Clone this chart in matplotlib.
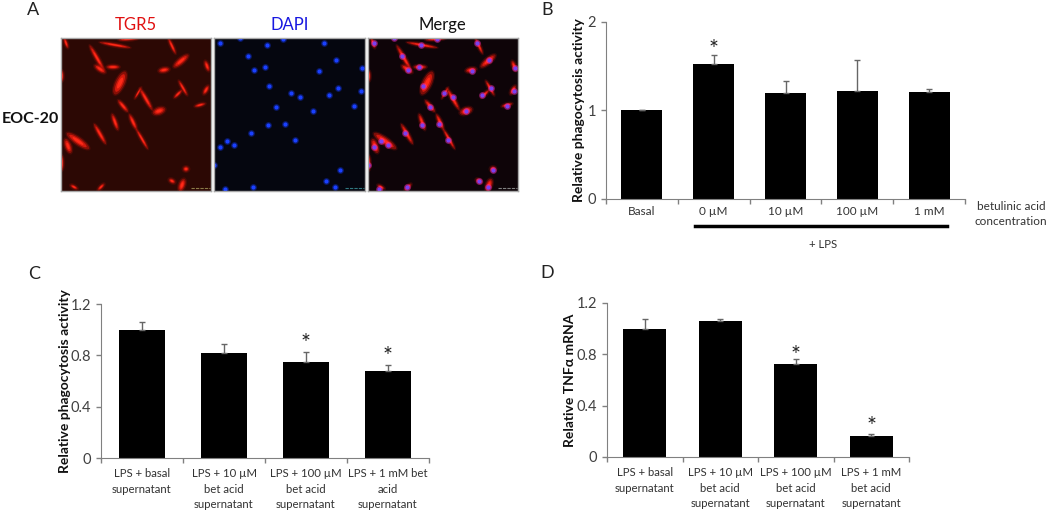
import matplotlib
matplotlib.use('Agg')
import matplotlib.pyplot as plt
from matplotlib.patches import Ellipse

plt.rcParams['font.family'] = ['Lato', 'DejaVu Sans']

W, H = 1050, 513

# Bar data
b_labels = ['Basal', '0 µM', '10 µM', '100 µM', '1 mM']
b_values = [1.0, 1.525, 1.2, 1.225, 1.21]
b_errors = [0.005, 0.105, 0.13, 0.35, 0.035]
b_stars = [None, 1.69, None, None, None]

c_labels = ['LPS + basal\nsupernatant', 'LPS + 10 µM\nbet acid\nsupernatant',
            'LPS + 100 µM\nbet acid\nsupernatant', 'LPS + 1 mM bet\nacid\nsupernatant']
c_values = [1.0, 0.815, 0.75, 0.675]
c_errors = [0.063, 0.07, 0.075, 0.052]
c_stars = [None, None, 0.895, 0.79]

d_labels = ['LPS + basal\nsupernatant', 'LPS + 10 µM\nbet acid\nsupernatant',
            'LPS + 100 µM\nbet acid\nsupernatant', 'LPS + 1 mM\nbet acid\nsupernatant']
d_values = [1.0, 1.062, 0.727, 0.164]
d_errors = [0.078, 0.011, 0.039, 0.015]
d_stars = [None, None, 0.79, 0.24]

# Micrograph cells: x, y, length, width, angle (y pointing down)
cells = [
    (54, 7, 30, 3, 10), (36, 20, 28, 4, 60), (39, 31, 12, 5, 35), (52, 29, 12, 4, 0),
    (111, 8, 16, 3, 65), (120, 23, 18, 6, -40), (103, 32, 10, 5, -10), (146, 28, 10, 4, 70),
    (59, 45, 24, 9, -65), (85, 61, 24, 4, 60), (77, 55, 12, 2, -60), (122, 50, 16, 3, 60),
    (117, 56, 10, 3, -45), (145, 52, 9, 4, -60), (139, 67, 10, 3, -15), (98, 73, 12, 7, -20),
    (62, 68, 14, 4, 50), (72, 84, 16, 4, 65), (81, 101, 22, 3, 60), (54, 84, 16, 4, 70),
    (39, 96, 22, 4, 60), (17, 103, 26, 7, 35), (7, 108, 14, 6, 70), (125, 131, 5, 5, 0),
    (121, 147, 12, 6, -70), (111, 143, 6, 4, 30), (40, 149, 8, 3, -45), (13, 149, 7, 3, 30),
    (1, 125, 14, 3, 90), (1, 38, 10, 3, 90), (68, 1, 20, 3, -5), (5, 5, 10, 3, 70),
]
nuclei = [
    (6, 5), (53, 7), (69, 1), (109, 5), (34, 18), (121, 22), (40, 32), (51, 29), (104, 33),
    (147, 30), (55, 48), (123, 50), (146, 53), (76, 55), (85, 59), (114, 57), (62, 69),
    (139, 68), (98, 73), (54, 87), (71, 86), (37, 95), (80, 102), (6, 109), (20, 107),
    (13, 103), (0, 127), (125, 132), (111, 143), (120, 149), (39, 149), (11, 151), (26, 0),
]


def px_axes(x0, y0, x1, y1):
    # pixel box, y from the top of the image
    return fig.add_axes([x0 / W, 1 - y1 / H, (x1 - x0) / W, (y1 - y0) / H])


def draw_cells(ax):
    for x, y, length, width, angle in cells:
        ax.add_patch(Ellipse((x, y), length + 4, width + 3, angle=angle, color='#a01008', alpha=0.25, lw=0))
        ax.add_patch(Ellipse((x, y), length + 1, width + 0.5, angle=angle, color='#c81408', alpha=0.5, lw=0))
        ax.add_patch(Ellipse((x, y), length * 0.8, width * 0.7, angle=angle, color='#e81c10', alpha=0.8, lw=0))
        ax.add_patch(Ellipse((x, y), length * 0.5, width * 0.4, angle=angle, color='#ff2a18', lw=0))


def draw_nuclei(ax, outer, inner):
    xs = [n[0] for n in nuclei]
    ys = [n[1] for n in nuclei]
    ax.scatter(xs, ys, s=24, color=outer, alpha=0.45, lw=0)
    ax.scatter(xs, ys, s=9, color=inner, lw=0)


def micrograph(x0, x1, bg, bar_color):
    ax = px_axes(x0, 38, x1, 191)
    ax.set_facecolor(bg)
    ax.set_xlim(0, 150)
    ax.set_ylim(153, 0)
    ax.set_xticks([])
    ax.set_yticks([])
    for s in ax.spines.values():
        s.set_color('#a8a8a8')
        s.set_linewidth(1)
    ax.plot([130, 149], [150, 150], color=bar_color, lw=0.8, ls=(0, (3, 1)))
    return ax


def bar_panel(box, labels, values, errors, stars, ymax, yticks, yticklabels, ylabel, label_x, fs, pad):
    ax = px_axes(*box)
    x = list(range(len(values)))
    ax.bar(x, values, width=0.57, color='black')
    ax.errorbar(x, values, yerr=[[0] * len(errors), errors], fmt='none', ecolor='#666666',
                elinewidth=1, capsize=2.5, capthick=1)
    for i, s in enumerate(stars):
        if s is not None:
            ax.text(i, s, '*', ha='center', va='center', fontsize=17, color='#222222')
    ax.set_xlim(-0.5, len(values) - 0.5)
    ax.set_ylim(0, ymax)
    ax.spines['top'].set_visible(False)
    ax.spines['right'].set_visible(False)
    ax.spines['left'].set_color('#808080')
    ax.spines['bottom'].set_color('#808080')
    ax.set_yticks(yticks)
    ax.set_yticklabels(yticklabels, fontsize=10.5, color='#404040')
    ax.set_xticks([i - 0.5 for i in range(len(values) + 1)])
    ax.set_xticklabels([])
    ax.set_xticks(x, minor=True)
    ax.set_xticklabels(labels, minor=True, fontsize=fs, color='#333333', linespacing=1.5)
    ax.tick_params(axis='x', which='minor', length=0, pad=pad)
    ax.tick_params(axis='both', which='major', color='#808080', length=3.5, width=1)
    ax.set_ylabel(ylabel, fontsize=10, fontweight='bold', color='#111111')
    ax.yaxis.set_label_coords(label_x, 0.5)
    return ax


fig = plt.figure(figsize=(W / 100, H / 100), dpi=100)

# Panel A
ax_red = micrograph(61, 211, '#2c0804', '#8a7a48')
draw_cells(ax_red)
ax_blue = micrograph(214, 365, '#05060f', '#307880')
draw_nuclei(ax_blue, '#1030d0', '#1a40ff')
ax_merge = micrograph(368, 518, '#0e0408', '#808080')
draw_cells(ax_merge)
draw_nuclei(ax_merge, '#ff30c0', '#7a40f0')

# Panels B, C, D
ax_b = bar_panel((606, 22, 965, 199), b_labels, b_values, b_errors, b_stars, 2,
                 [0, 1, 2], ['0', '1', '2'], 'Relative phagocytosis activity', -0.058, 8.5, 5)
ax_b.plot([0.74, 4.25], [-0.305, -0.305], color='black', lw=2.5, clip_on=False)
ax_c = bar_panel((101, 304, 429, 458), c_labels, c_values, c_errors, c_stars, 1.2,
                 [0, 0.4, 0.8, 1.2], ['0', '0.4', '0.8', '1.2'], 'Relative phagocytosis activity', -0.09, 8.2, 7.5)
ax_d = bar_panel((607, 303, 909, 457), d_labels, d_values, d_errors, d_stars, 1.2,
                 [0, 0.4, 0.8, 1.2], ['0', '0.4', '0.8', '1.2'], 'Relative TNFα mRNA', -0.103, 8.2, 7.5)


def label(x, y, s, **kw):
    fig.text(x / W, 1 - y / H, s, ha='center', va='center', **kw)


label(33, 10, 'A', fontsize=13, color='#222222')
label(547, 10, 'B', fontsize=13, color='#222222')
label(34, 274, 'C', fontsize=13, color='#222222')
label(547, 273, 'D', fontsize=13, color='#222222')
label(136, 25, 'TGR5', fontsize=12, color='#e01010')
label(290, 25, 'DAPI', fontsize=12, color='#1818e0')
label(442, 25, 'Merge', fontsize=12, color='#111111')
label(30, 119, 'EOC-20', fontsize=11.5, fontweight='bold', color='#111111')
label(1011, 214, 'betulinic acid\nconcentration', fontsize=8.5, color='#333333', linespacing=1.5)
label(823, 244, '+ LPS', fontsize=8.2, color='#333333')

fig.savefig('out.png', dpi=100)
